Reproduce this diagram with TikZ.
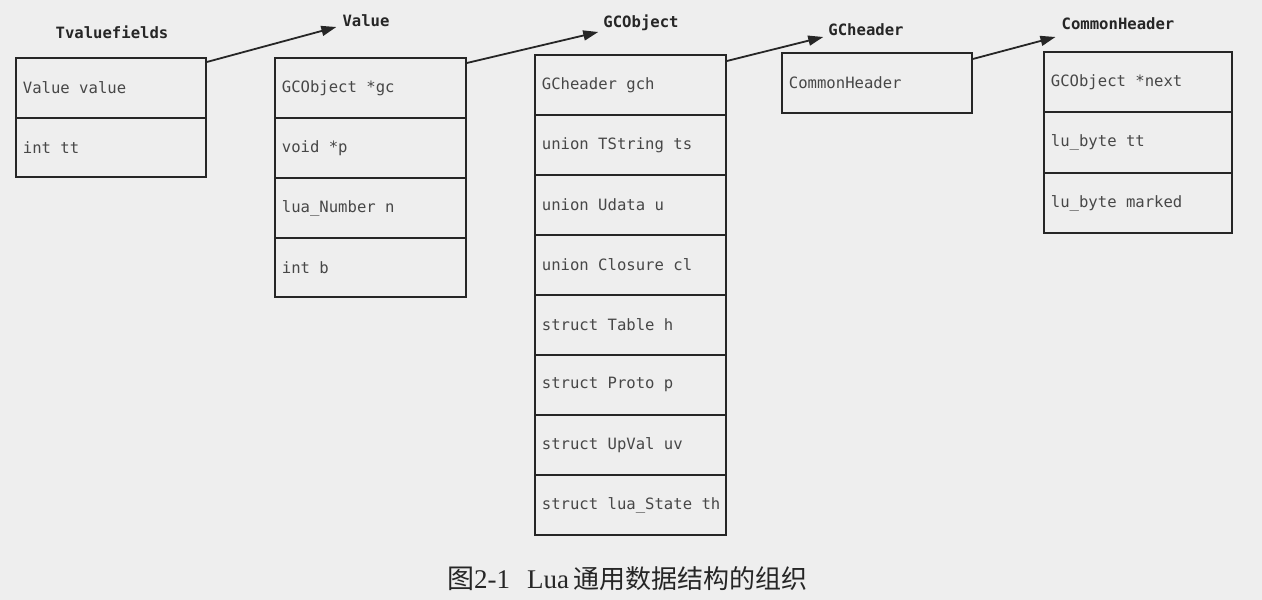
\documentclass[tikz,border=0pt]{standalone}
\usepackage{fontspec}
\setmainfont{Liberation Serif}
\setmonofont{DejaVu Sans Mono}
\newfontfamily\cjk{Noto Sans CJK SC}
\usetikzlibrary{arrows.meta,calc}
\definecolor{paper}{HTML}{EEEEEE}
\definecolor{ink}{HTML}{262626}
\tikzset{
  field/.style={draw=ink, line width=1.8pt, rectangle, anchor=north west,
    text width=176pt, inner xsep=7pt, inner ysep=0pt, minimum height=#1,
    align=left, font=\ttfamily\fontsize{15.6}{18}\selectfont, text=ink!85,
    execute at begin node={\spaceskip=9.39pt\relax}},
  field/.default=60pt,
  title/.style={font=\ttfamily\bfseries\fontsize{15.6}{18}\selectfont, text=ink, inner sep=0pt},
  link/.style={draw=ink, line width=1.8pt, -{Triangle[length=15pt,width=10pt]}},
}
\begin{document}
\begin{tikzpicture}[x=1pt,y=-1pt]
\fill[paper] (0,0) rectangle (1262,600);
\useasboundingbox (0,0) rectangle (1262,600);

% Tvaluefields
\node[title] (t1) at (112,32) {Tvaluefields};
\node[field] (tv1) at (15,57) {Value value};
\node[field=59pt] (tv2) at (15,117) {int tt};

% Value
\node[title] (t2) at (366,21) {Value};
\node[field, text width=177pt] (v1) at (274,57) {GCObject *gc};
\node[field, text width=177pt] (v2) at (274,117) {void *p};
\node[field, text width=177pt] (v3) at (274,177) {lua\_Number n};
\node[field=59pt, text width=177pt] (v4) at (274,237) {int b};

% GCObject
\node[title] (t3) at (641,23) {GCObject};
\node[field, text width=177pt] (g1) at (534,54) {GCheader gch};
\node[field, text width=177pt] (g2) at (534,114) {union TString ts};
\node[field, text width=177pt] (g3) at (534,174) {union Udata u};
\node[field, text width=177pt] (g4) at (534,234) {union Closure cl};
\node[field, text width=177pt] (g5) at (534,294) {struct Table h};
\node[field, text width=177pt] (g6) at (534,354) {struct Proto p};
\node[field, text width=177pt] (g7) at (534,414) {struct UpVal uv};
\node[field, text width=177pt] (g8) at (534,474) {\mbox{struct lua\_State th}};

% GCheader
\node[title] (t4) at (866,30) {GCheader};
\node[field, text width=176pt] (h1) at (781,52) {CommonHeader};

% CommonHeader
\node[title] (t5) at (1118,24) {CommonHeader};
\node[field, text width=174pt] (c1) at (1043,51) {GCObject *next};
\node[field=61pt, text width=174pt] (c2) at (1043,111) {lu\_byte tt};
\node[field, text width=174pt] (c3) at (1043,172) {lu\_byte marked};

% arrow tips
\coordinate (a2) at ([xshift=-6pt,yshift=-6pt]t2.west);
\coordinate (a3) at ([xshift=-5pt,yshift=-9pt]t3.west);
\coordinate (a4) at ([xshift=-5pt,yshift=-7pt]t4.west);
\coordinate (a5) at ([xshift=-6pt,yshift=-13pt]t5.west);

\draw[link] ([yshift=-5pt]tv1.north east) -- (a2);
\draw[link] ([yshift=-6pt]v1.north east) -- (a3);
\draw[link] ([yshift=-7pt]g1.north east) -- (a4);
\draw[link] ([yshift=-7pt]h1.north east) -- (a5);

% caption
\node[font=\fontsize{27}{30}\selectfont, text=ink, anchor=west, inner sep=0pt] (cap) at (447,579)
  {{\cjk\fontsize{27}{30}\selectfont 图}2-1\hspace{17pt}Lua\hspace{4pt}{\cjk\fontsize{26}{30}\selectfont 通用数据结构的组织}};
\end{tikzpicture}
\end{document}
